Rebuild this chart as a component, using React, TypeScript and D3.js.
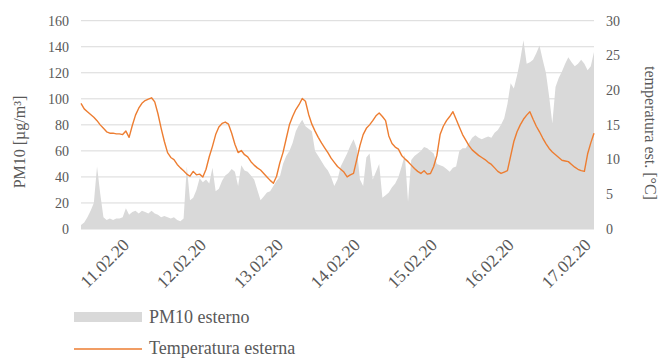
import React from "react";
import * as d3 from "d3";

// Hourly readings, starting 10.02.2020 08:00
const startTime = new Date(2020, 1, 10, 8, 0, 0);
const endTime = new Date(2020, 1, 17, 0, 0, 0);

// PM10 outdoor concentration [µg/m³], hourly
const pm10Values: number[] = [
  3, 5, 9, 14, 20, 48, 27, 9, 7, 8,
  7, 8, 8, 9, 16, 11, 13, 14, 12, 14,
  13, 12, 14, 12, 11, 9, 10, 9, 8, 9,
  7, 6, 8, 48, 22, 24, 30, 39, 36, 38,
  35, 47, 29, 31, 37, 41, 43, 46, 44, 33,
  49, 45, 44, 41, 38, 30, 22, 25, 28, 29,
  33, 37, 40, 50, 56, 60, 66, 75, 80, 84,
  79, 77, 75, 60, 56, 52, 48, 45, 40, 33,
  38, 48, 53, 58, 64, 69, 62, 38, 33, 55,
  58, 38, 44, 50, 24, 26, 28, 32, 35, 40,
  48, 57, 21, 53, 56, 58, 60, 63, 62, 60,
  58, 50, 49, 48, 46, 44, 47, 48, 60, 62,
  62, 66, 70, 72, 70, 69, 70, 71, 70, 74,
  76, 80, 85, 96, 112, 108, 118, 130, 145, 127,
  128, 130, 135, 141, 130, 120, 102, 81, 109, 116,
  121, 127, 132, 128, 125, 127, 130, 127, 122, 125, 136,
];

// Outdoor temperature [°C], hourly
const tempValues: number[] = [
  18.1, 17.3, 16.9, 16.5, 16.1, 15.6, 15.0, 14.5, 14.0, 13.8,
  13.8, 13.7, 13.7, 13.6, 14.1, 13.2, 14.9, 16.4, 17.4, 18.1,
  18.5, 18.7, 18.9, 18.3, 16.6, 14.5, 12.6, 11.0, 10.3, 10.0,
  9.3, 8.8, 8.4, 7.9, 7.6, 8.3, 7.8, 7.9, 7.5, 8.6,
  10.4, 11.9, 13.6, 14.7, 15.2, 15.4, 15.1, 13.8, 12.2, 11.0,
  11.3, 10.7, 10.4, 9.7, 9.2, 8.8, 8.5, 8.0, 7.5, 7.0,
  6.6, 7.6, 9.5, 11.0, 13.0, 15.0, 16.2, 17.2, 17.9, 18.8,
  18.4, 16.5, 15.1, 14.1, 13.2, 12.4, 11.7, 11.0, 10.2, 9.6,
  9.0, 8.6, 8.2, 7.5, 7.8, 8.0, 10.0, 12.0, 13.6, 14.5,
  15.0, 15.6, 16.3, 16.7, 16.2, 15.6, 13.4, 12.3, 11.8, 11.5,
  10.6, 10.1, 9.7, 9.2, 8.7, 8.3, 8.0, 8.4, 7.9, 8.0,
  9.0, 10.6, 13.6, 14.8, 15.6, 16.2, 16.9, 15.8, 14.7, 13.6,
  12.8, 12.0, 11.4, 11.0, 10.6, 10.3, 10.0, 9.6, 9.3, 8.8,
  8.3, 8.0, 8.2, 8.4, 10.5, 12.6, 14.0, 15.0, 15.8, 16.4,
  16.9, 15.8, 14.8, 14.0, 13.1, 12.3, 11.6, 11.1, 10.7, 10.3,
  9.9, 9.8, 9.7, 9.3, 8.9, 8.6, 8.4, 8.3, 10.8, 12.4, 13.8,
];

const dayTicks: Date[] = [
  new Date(2020, 1, 11),
  new Date(2020, 1, 12),
  new Date(2020, 1, 13),
  new Date(2020, 1, 14),
  new Date(2020, 1, 15),
  new Date(2020, 1, 16),
  new Date(2020, 1, 17),
];
const pmTicks: number[] = [0, 20, 40, 60, 80, 100, 120, 140, 160];
const tempTicks: number[] = [0, 5, 10, 15, 20, 25, 30];

const leftTitle = "PM10 [µg/m³]";
const rightTitle = "temperatura est. [°C]";
const legendPm = "PM10 esterno";
const legendTemp = "Temperatura esterna";

const W = 660;
const H = 358;
const plot = { left: 81, right: 594, top: 20.7, bottom: 229 };
const FONT = "'Liberation Serif', 'Times New Roman', serif";
const TEXT = "#595959";
const GRID = "#d9d9d9";
const AREA = "#d9d9d9";
const ORANGE = "#ED7D31";

const hour = 3600 * 1000;
const pmData = pm10Values.map((v, i) => ({ t: new Date(startTime.getTime() + i * hour), v }));
const tempData = tempValues.map((v, i) => ({ t: new Date(startTime.getTime() + i * hour), v }));

export default function App() {
  const x = d3.scaleTime().domain([startTime, endTime]).range([plot.left, plot.right]);
  const yL = d3.scaleLinear().domain([0, 160]).range([plot.bottom, plot.top]);
  const yR = d3.scaleLinear().domain([0, 30]).range([plot.bottom, plot.top]);
  const fmt = d3.timeFormat("%d.%m.%y");

  const area = d3
    .area<{ t: Date; v: number }>()
    .x((d) => x(d.t))
    .y0(yL(0))
    .y1((d) => yL(d.v));
  const line = d3
    .line<{ t: Date; v: number }>()
    .x((d) => x(d.t))
    .y((d) => yR(d.v));

  return (
    <svg
      width={W}
      height={H}
      style={{ position: "absolute", left: 0, top: 0, background: "#fff" }}
      fontFamily={FONT}
    >
      <rect x={0} y={0} width={W} height={H} fill="#fff" />
      {pmTicks.map((t) => (
        <line key={"g" + t} x1={plot.left} x2={plot.right} y1={yL(t)} y2={yL(t)} stroke={GRID} strokeWidth={1} />
      ))}
      <path d={area(pmData) || ""} fill={AREA} />
      <path d={line(tempData) || ""} fill="none" stroke={ORANGE} strokeWidth={1.4} strokeLinejoin="round" />

      {pmTicks.map((t) => (
        <text key={"l" + t} x={69} y={yL(t)} dy="0.35em" textAnchor="end" fontSize={14} fill={TEXT}>
          {t}
        </text>
      ))}
      {tempTicks.map((t) => (
        <text key={"r" + t} x={606} y={yR(t)} dy="0.35em" textAnchor="start" fontSize={14} fill={TEXT}>
          {t}
        </text>
      ))}
      {dayTicks.map((d) => {
        const tx = x(d) - 2;
        const ty = 246;
        return (
          <text
            key={"x" + d.getTime()}
            x={tx}
            y={ty}
            textAnchor="end"
            fontSize={17.5}
            fill={TEXT}
            transform={`rotate(-45 ${tx} ${ty})`}
          >
            {fmt(d)}
          </text>
        );
      })}

      <text
        x={0}
        y={0}
        transform={`translate(25 ${142}) rotate(-90)`}
        textAnchor="middle"
        fontSize={16}
        fill={TEXT}
      >
        {leftTitle}
      </text>
      <text
        x={0}
        y={0}
        transform={`translate(645 ${133}) rotate(90)`}
        textAnchor="middle"
        fontSize={16}
        fill={TEXT}
      >
        {rightTitle}
      </text>

      <rect x={74} y={312} width={68} height={10} fill={AREA} />
      <text x={149} y={323} fontSize={18} fill={TEXT}>
        {legendPm}
      </text>
      <line x1={74} x2={142} y1={349} y2={349} stroke={ORANGE} strokeWidth={1.4} />
      <text x={149} y={354} fontSize={18} fill={TEXT}>
        {legendTemp}
      </text>
    </svg>
  );
}
